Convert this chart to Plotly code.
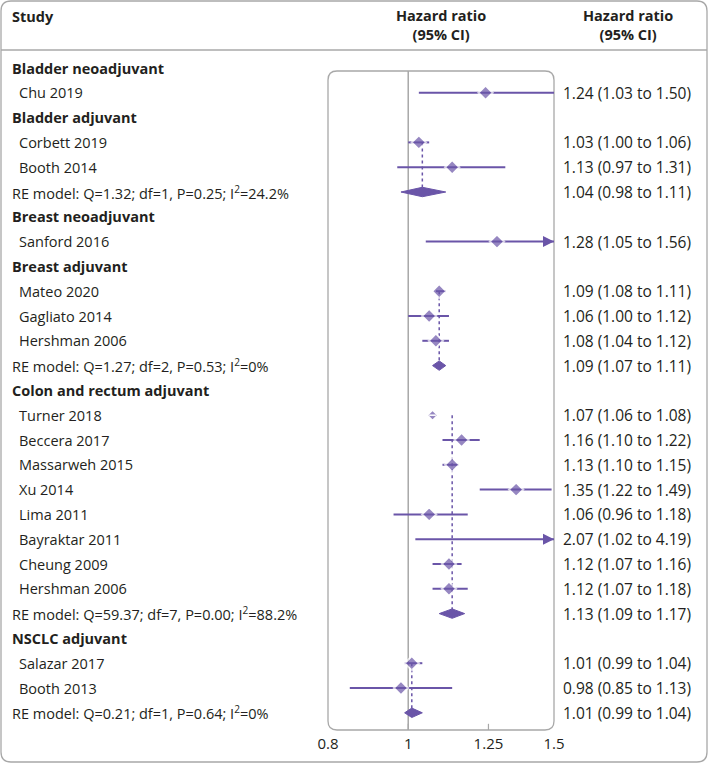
import math
import plotly.graph_objects as go

# rows, top to bottom
labels = [
    "Bladder neoadjuvant", "Chu 2019",
    "Bladder adjuvant", "Corbett 2019", "Booth 2014",
    "RE model: Q=1.32; df=1, P=0.25; I<sup>2</sup>=24.2%",
    "Breast neoadjuvant", "Sanford 2016",
    "Breast adjuvant", "Mateo 2020", "Gagliato 2014", "Hershman 2006",
    "RE model: Q=1.27; df=2, P=0.53; I<sup>2</sup>=0%",
    "Colon and rectum adjuvant", "Turner 2018", "Beccera 2017", "Massarweh 2015",
    "Xu 2014", "Lima 2011", "Bayraktar 2011", "Cheung 2009", "Hershman 2006",
    "RE model: Q=59.37; df=7, P=0.00; I<sup>2</sup>=88.2%",
    "NSCLC adjuvant", "Salazar 2017", "Booth 2013",
    "RE model: Q=0.21; df=1, P=0.64; I<sup>2</sup>=0%",
]
kinds = [
    "group", "study",
    "group", "study", "study", "re",
    "group", "study",
    "group", "study", "study", "study", "re",
    "group", "study", "study", "study", "study", "study", "study", "study", "study", "re",
    "group", "study", "study", "re",
]
hr = [None, 1.24, None, 1.03, 1.13, 1.04, None, 1.28, None, 1.09, 1.06, 1.08, 1.09,
      None, 1.07, 1.16, 1.13, 1.35, 1.06, 2.07, 1.12, 1.12, 1.13, None, 1.01, 0.98, 1.01]
lo = [None, 1.03, None, 1.00, 0.97, 0.98, None, 1.05, None, 1.08, 1.00, 1.04, 1.07,
      None, 1.06, 1.10, 1.10, 1.22, 0.96, 1.02, 1.07, 1.07, 1.09, None, 0.99, 0.85, 0.99]
hi = [None, 1.50, None, 1.06, 1.31, 1.11, None, 1.56, None, 1.11, 1.12, 1.12, 1.11,
      None, 1.08, 1.22, 1.15, 1.49, 1.18, 4.19, 1.16, 1.18, 1.17, None, 1.04, 1.13, 1.04]
small_markers = ["Turner 2018"]

x_ticks = [0.8, 1, 1.25, 1.5]
x_min, x_max = 0.8, 1.5
ref_value = 1

PURPLE = "#6a55a8"
TEXT = "#231f20"
GREY = "#a8a8a8"
FONT = "Open Sans"
FS = 14.5

W, H = 709, 765
L, R, T, B = 328, 554, 71, 730
row0, row_h = 68, 24.8
y_top = (T - row0) / row_h
y_bot = (B - row0) / row_h


def px_x(px):
    return (px - L) / (R - L)


def px_y(py):
    return (B - py) / (B - T)


def row_y(i):
    return px_y(row0 + i * row_h)


def rounded_rect(x0, y0, x1, y1, r):
    p = lambda x, y: f"{px_x(x):.5f},{px_y(y):.5f}"
    return (f"M{p(x0 + r, y0)} L{p(x1 - r, y0)} Q{p(x1, y0)} {p(x1, y0 + r)} "
            f"L{p(x1, y1 - r)} Q{p(x1, y1)} {p(x1 - r, y1)} "
            f"L{p(x0 + r, y1)} Q{p(x0, y1)} {p(x0, y1 - r)} "
            f"L{p(x0, y0 + r)} Q{p(x0, y0)} {p(x0 + r, y0)} Z")


fig = go.Figure()

rows = list(range(len(labels)))
study_rows = [i for i in rows if kinds[i] == "study"]
re_rows = [i for i in rows if kinds[i] == "re"]

# reference line at HR = 1
fig.add_trace(go.Scatter(x=[ref_value, ref_value], y=[y_top, y_bot], mode="lines",
                         line=dict(color=GREY, width=1.5), hoverinfo="skip"))

# inner ticks on the bottom edge
for t in x_ticks[1:-1]:
    fig.add_trace(go.Scatter(x=[t, t], y=[y_bot, y_bot - 0.25], mode="lines",
                             line=dict(color=GREY, width=1.2), hoverinfo="skip"))

# CI lines
cx, cy = [], []
for i in study_rows:
    if labels[i] in small_markers:
        continue
    cx += [lo[i], min(hi[i], x_max), None]
    cy += [i, i, None]
fig.add_trace(go.Scatter(x=cx, y=cy, mode="lines", line=dict(color=PURPLE, width=2),
                         hoverinfo="skip"))

# pooled estimate dashed lines
for r in re_rows:
    first = r
    while kinds[first - 1] == "study":
        first -= 1
    fig.add_trace(go.Scatter(x=[hr[r], hr[r]], y=[first, r], mode="lines",
                             line=dict(color=PURPLE, width=1.5, dash="3px,3px"),
                             hoverinfo="skip"))

# study markers
fig.add_trace(go.Scatter(
    x=[hr[i] for i in study_rows], y=study_rows, mode="markers",
    marker=dict(symbol="diamond", color=PURPLE,
                size=[8.5 if labels[i] in small_markers else 11 for i in study_rows],
                line=dict(color="white", width=2)),
    hoverinfo="skip"))

# tiny CIs drawn through the small markers
for i in study_rows:
    if labels[i] in small_markers:
        fig.add_trace(go.Scatter(x=[lo[i], hi[i]], y=[i, i], mode="lines",
                                 line=dict(color="white", width=1.5), hoverinfo="skip"))

# RE model diamonds
dh = 0.19
for r in re_rows:
    fig.add_trace(go.Scatter(x=[lo[r], hr[r], hi[r], hr[r], lo[r]],
                             y=[r, r - dh, r, r + dh, r], mode="lines", fill="toself",
                             fillcolor=PURPLE, line=dict(color=PURPLE, width=1),
                             hoverinfo="skip"))

# arrows for CIs past the axis
for i in study_rows:
    if hi[i] > x_max:
        fig.add_annotation(x=math.log10(x_max), y=i, ax=math.log10(x_max) - 0.012, ay=i,
                           xref="x", yref="y", axref="x", ayref="y", text="",
                           showarrow=True, arrowhead=2, arrowsize=1.1, arrowwidth=2,
                           arrowcolor=PURPLE)

# left column
for i in rows:
    bold = kinds[i] == "group"
    txt = f"<b>{labels[i]}</b>" if bold else labels[i]
    xpx = 17 if kinds[i] == "study" else 10
    fig.add_annotation(x=px_x(xpx), y=row_y(i), xref="paper", yref="paper", text=txt,
                       showarrow=False, xanchor="left", yanchor="middle",
                       font=dict(family=FONT, size=FS, color=TEXT))

# right column
for i in rows:
    if hr[i] is None:
        continue
    fig.add_annotation(x=px_x(561), y=row_y(i), xref="paper", yref="paper",
                       text=f"{hr[i]:.2f} ({lo[i]:.2f} to {hi[i]:.2f})",
                       showarrow=False, xanchor="left", yanchor="middle",
                       font=dict(family=FONT, size=15.5, color=TEXT))

# headers
fig.add_annotation(x=px_x(10), y=px_y(16), xref="paper", yref="paper", text="<b>Study</b>",
                   showarrow=False, xanchor="left", yanchor="middle",
                   font=dict(family=FONT, size=FS, color=TEXT))
for cx_px in [441, 628]:
    fig.add_annotation(x=px_x(cx_px), y=px_y(25), xref="paper", yref="paper",
                       text="<b>Hazard ratio<br>(95% CI)</b>", showarrow=False,
                       xanchor="center", yanchor="middle", align="center",
                       font=dict(family=FONT, size=FS, color=TEXT))

# frames
fig.add_shape(type="path", xref="paper", yref="paper", path=rounded_rect(L, T, R, B, 9),
              line=dict(color=GREY, width=1.3), layer="below")
fig.add_shape(type="path", xref="paper", yref="paper", path=rounded_rect(1, 1, W - 2, H - 3, 10),
              line=dict(color=GREY, width=1.3))
fig.add_shape(type="line", xref="paper", yref="paper", x0=px_x(1), x1=px_x(W - 2),
              y0=px_y(50), y1=px_y(50), line=dict(color=GREY, width=1.3))

fig.update_layout(
    width=W, height=H,
    margin=dict(l=L, r=W - R, t=T, b=H - B),
    paper_bgcolor="white", plot_bgcolor="white",
    showlegend=False,
    font=dict(family=FONT, size=FS, color=TEXT),
    xaxis=dict(type="log", range=[math.log10(x_min), math.log10(x_max)],
               tickvals=x_ticks, ticktext=[f"{t:g}" for t in x_ticks],
               showgrid=False, zeroline=False, showline=False, ticks="",
               ticklabelstandoff=3,
               tickfont=dict(family=FONT, size=15, color=TEXT), fixedrange=True),
    yaxis=dict(range=[y_bot, y_top], visible=False, fixedrange=True),
)

fig.write_html("out.html", config={"displayModeBar": False},
               post_script="document.body.style.margin = '0';")
